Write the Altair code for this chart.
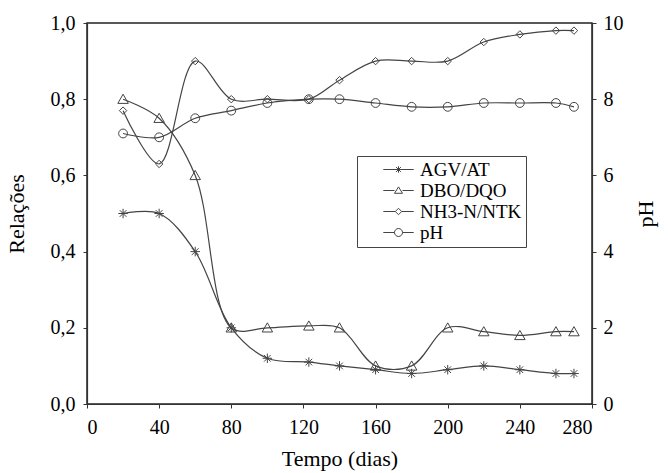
import altair as alt
import pandas as pd

dias = [20, 40, 60, 80, 100, 123, 140, 160, 180, 200, 220, 240, 260, 270]
agv_at = [0.50, 0.50, 0.40, 0.20, 0.12, 0.11, 0.10, 0.09, 0.08, 0.09, 0.10, 0.09, 0.08, 0.08]
dbo_dqo = [0.80, 0.75, 0.60, 0.20, 0.20, 0.205, 0.20, 0.10, 0.10, 0.20, 0.19, 0.18, 0.19, 0.19]
nh3_ntk = [0.77, 0.63, 0.90, 0.80, 0.80, 0.80, 0.85, 0.90, 0.90, 0.90, 0.95, 0.97, 0.98, 0.98]
ph = [7.1, 7.0, 7.5, 7.7, 7.9, 8.0, 8.0, 7.9, 7.8, 7.8, 7.9, 7.9, 7.9, 7.8]

series_names = ["AGV/AT", "DBO/DQO", "NH3-N/NTK", "pH"]

rows = []
for name, vals in zip(series_names[:3], [agv_at, dbo_dqo, nh3_ntk]):
    for d, v in zip(dias, vals):
        rows.append({"dia": d, "valor": v, "serie": name})
left_df = pd.DataFrame(rows)
ph_df = pd.DataFrame({"dia": dias, "ph": ph, "serie": "pH"})

FONT = "Liberation Serif"
GRAY = "#444444"

ASTER = "M-1,0H1M0,-1V1M-0.7,-0.7L0.7,0.7M-0.7,0.7L0.7,-0.7"
TRI = "M0,-0.95L1,0.8L-1,0.8Z"

marker_paths = {
    "AGV/AT": (ASTER, 90),
    "DBO/DQO": (TRI, 110),
    "NH3-N/NTK": ("diamond", 55),
}

# legend symbols: line with marker (symbol box 16 px, unit = 8 px)
leg_paths = [
    "M-1,0M1.6,0H5.4M3.5,-0.4V0.4M3.2,-0.3L3.8,0.3M3.2,0.3L3.8,-0.3",
    "M-1,0M1.6,0H3.0M4.0,0H5.4M3.5,-0.45L4.0,0.35L3.0,0.35Z",
    "M-1,0M1.6,0H3.1M3.9,0H5.4M3.5,-0.4L3.9,0L3.5,0.4L3.1,0Z",
    "M-1,0M1.6,0H3.0M4.0,0H5.4M3.0,0A0.5,0.5,0,1,0,4.0,0A0.5,0.5,0,1,0,3.0,0Z",
]

x_enc = alt.X(
    "dia:Q",
    scale=alt.Scale(domain=[0, 280], nice=False),
    axis=alt.Axis(
        values=list(range(0, 281, 40)),
        title="Tempo (dias)",
        titlePadding=11,
        labelPadding=9,
    ),
)
y_left = alt.Y(
    "valor:Q",
    scale=alt.Scale(domain=[0, 1], nice=False),
    axis=alt.Axis(
        values=[0, 0.2, 0.4, 0.6, 0.8, 1.0],
        labelExpr="replace(format(datum.value, '.1f'), '.', ',')",
        title="Relações",
        titlePadding=22,
        labelPadding=8,
    ),
)

base_left = alt.Chart(left_df)
line_left = base_left.mark_line(interpolate="catmull-rom", color=GRAY, strokeWidth=1.2).encode(
    x=x_enc, y=y_left, detail="serie:N"
)
pt_layers = []
for name, (shp, sz) in marker_paths.items():
    pt_layers.append(
        base_left.transform_filter(alt.datum.serie == name)
        .mark_point(shape=shp, size=sz, filled=False, color=GRAY, strokeWidth=1, opacity=1)
        .encode(x=x_enc, y=y_left)
    )

legend_layer = (
    base_left.transform_filter("false")
    .mark_point(filled=False, color=GRAY, opacity=1)
    .encode(
        x=x_enc,
        y=y_left,
        shape=alt.Shape(
            "serie:N",
            scale=alt.Scale(domain=series_names, range=leg_paths),
            legend=alt.Legend(
                title=None,
                orient="none",
                legendX=270,
                legendY=133,
                symbolSize=256,
                symbolStrokeWidth=1,
                symbolStrokeColor=GRAY,
                symbolFillColor="transparent",
                labelFont=FONT,
                labelFontSize=19,
                labelColor="black",
                labelOffset=40,
                rowPadding=1,
                padding=4,
                strokeColor=GRAY,
                fillColor="white",
            ),
        ),
    )
)

left = alt.layer(line_left, *pt_layers, legend_layer)

y_right = alt.Y(
    "ph:Q",
    scale=alt.Scale(domain=[0, 10], nice=False),
    axis=alt.Axis(
        orient="right",
        values=[0, 2, 4, 6, 8, 10],
        title="pH",
        titleAngle=270,
        titlePadding=34,
        labelPadding=7,
    ),
)
base_ph = alt.Chart(ph_df)
line_ph = base_ph.mark_line(interpolate="catmull-rom", color=GRAY, strokeWidth=1.2).encode(x=x_enc, y=y_right)
pt_ph = base_ph.mark_point(shape="circle", size=78, filled=False, color=GRAY, strokeWidth=1, opacity=1).encode(
    x=x_enc, y=y_right
)
right = alt.layer(line_ph, pt_ph)

chart = (
    alt.layer(left, right)
    .resolve_scale(y="independent")
    .properties(
        width=505,
        height=381,
        autosize=alt.AutoSizeParams(type="none"),
        padding={"left": 87, "top": 23, "right": 76, "bottom": 69},
        background="white",
    )
    .configure_view(stroke="#222222", strokeWidth=1.5)
    .configure_axis(
        grid=False,
        labelFont=FONT,
        titleFont=FONT,
        labelFontSize=20,
        titleFontSize=22,
        titleFontWeight="normal",
        labelColor="black",
        titleColor="black",
        domainColor="#333333",
        domainWidth=1.2,
        tickColor="#333333",
        tickSize=4,
    )
)

chart.save("out.html", embed_options={"renderer": "svg", "actions": False})
